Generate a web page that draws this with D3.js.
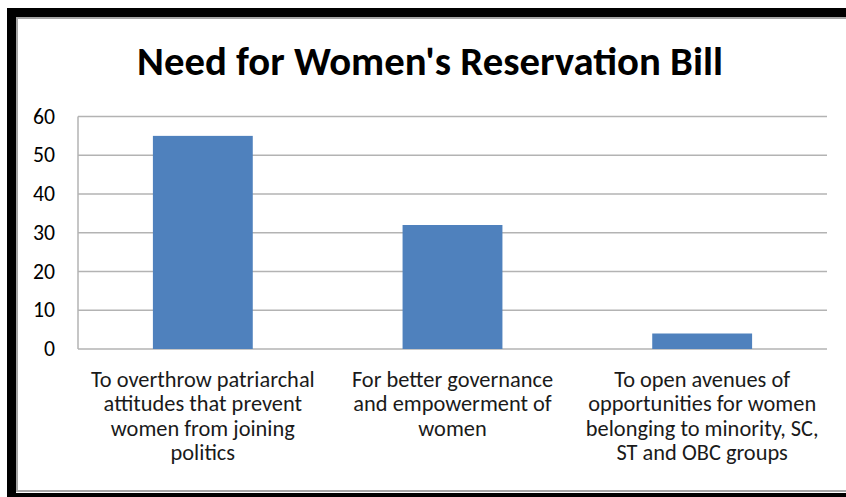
<!DOCTYPE html>
<html>
<head>
<meta charset="utf-8">
<script src="https://cdn.jsdelivr.net/npm/d3@7"></script>
<style>
  body { margin: 0; background: #fff; }
  text { font-family: Carlito, Lato, "Open Sans", sans-serif; }
</style>
</head>
<body>
<svg id="chart" width="846" height="497"></svg>
<script>
// Chart content
const title = "Need for Women's Reservation Bill";
const categories = [
  "To overthrow patriarchal\nattitudes that prevent\nwomen from joining\npolitics",
  "For better governance\nand empowerment of\nwomen",
  "To open avenues of\nopportunities for women\nbelonging to minority, SC,\nST and OBC groups"
];
const values = [55, 32, 4];
const yTicks = [0, 10, 20, 30, 40, 50, 60];

const svg = d3.select("#chart");

// Picture frame: thick black border with a thin grey inner rule
svg.append("rect")
  .attr("x", 11.5).attr("y", 12.5)
  .attr("width", 900).attr("height", 485)
  .attr("fill", "none").attr("stroke", "#000").attr("stroke-width", 9);
svg.append("rect")
  .attr("x", 17).attr("y", 18)
  .attr("width", 900).attr("height", 473)
  .attr("fill", "none").attr("stroke", "#a6a6a6").attr("stroke-width", 2);

// Plot area
const plot = { left: 78, right: 827, top: 116.5, bottom: 349 };

const x = d3.scaleBand()
  .domain(d3.range(categories.length))
  .range([plot.left, plot.right])
  .paddingInner(0.6)
  .paddingOuter(0.3);

const y = d3.scaleLinear()
  .domain([0, 60])
  .range([plot.bottom, plot.top]);

// Fit a text element's font size so it spans a target width
function fitSize(sel, base, target) {
  sel.attr("font-size", base);
  const w = sel.node().getComputedTextLength();
  return base * target / w;
}

// Horizontal gridlines
svg.append("g")
  .selectAll("line")
  .data(yTicks)
  .join("line")
  .attr("x1", plot.left).attr("x2", plot.right)
  .attr("y1", d => y(d)).attr("y2", d => y(d))
  .attr("stroke", "#b3b3b3").attr("stroke-width", 1.5);

// Vertical axis line
svg.append("line")
  .attr("x1", plot.left).attr("x2", plot.left)
  .attr("y1", plot.top).attr("y2", plot.bottom)
  .attr("stroke", "#b3b3b3").attr("stroke-width", 1.5);

// Y tick labels
const probe = svg.append("text").text("60");
const tickSize = fitSize(probe, 20, 22);
probe.remove();
svg.append("g")
  .selectAll("text")
  .data(yTicks)
  .join("text")
  .attr("x", 55)
  .attr("y", d => y(d) + tickSize * 0.33)
  .attr("text-anchor", "end")
  .attr("font-size", tickSize)
  .attr("fill", "#000")
  .text(d => d);

// Bars
svg.append("g")
  .selectAll("rect")
  .data(values)
  .join("rect")
  .attr("x", (d, i) => x(i))
  .attr("y", d => y(d))
  .attr("width", x.bandwidth())
  .attr("height", d => y(0) - y(d))
  .attr("fill", "#4f81bd");

// Category labels, one tspan per line
const probe2 = svg.append("text").text("To overthrow patriarchal");
const catSize = fitSize(probe2, 20, 224);
probe2.remove();
const lineH = 24.4;
svg.append("g")
  .selectAll("text")
  .data(categories)
  .join("text")
  .attr("text-anchor", "middle")
  .attr("font-size", catSize)
  .attr("fill", "#1a1a1a")
  .each(function (d, i) {
    const cx = x(i) + x.bandwidth() / 2;
    d3.select(this).selectAll("tspan")
      .data(d.split("\n"))
      .join("tspan")
      .attr("x", cx)
      .attr("y", (l, j) => 387 + j * lineH)
      .text(l => l);
  });

// Title
const t = svg.append("text")
  .attr("x", 430)
  .attr("y", 75)
  .attr("text-anchor", "middle")
  .attr("font-weight", "bold")
  .attr("fill", "#000")
  .text(title);
t.attr("font-size", fitSize(t, 36, 586));
</script>
</body>
</html>
